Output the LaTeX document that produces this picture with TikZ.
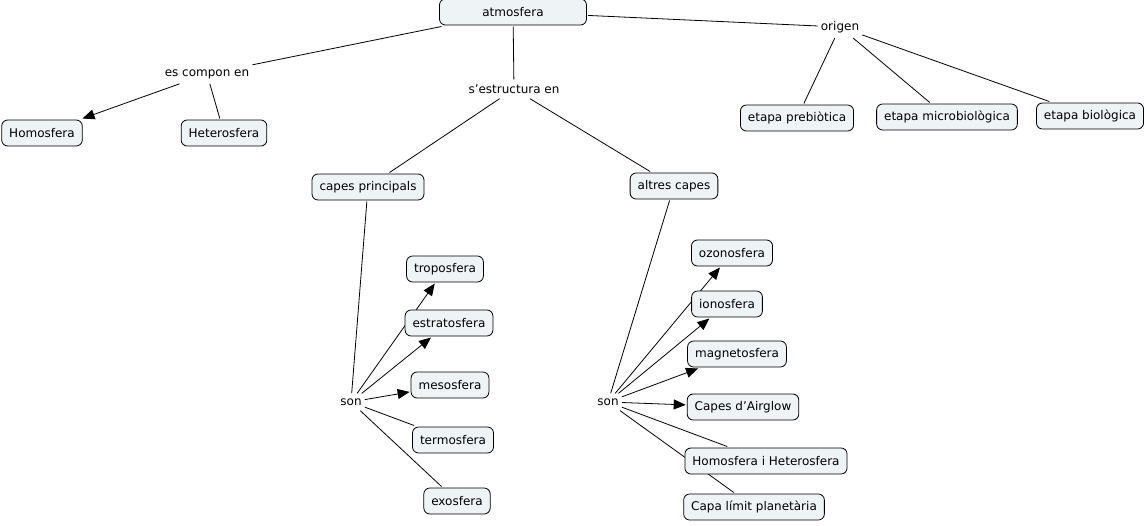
\documentclass[tikz,border=0pt]{standalone}
\usepackage{fontspec}
\setmainfont{DejaVu Sans}
\usetikzlibrary{arrows.meta,backgrounds}
\definecolor{boxfill}{HTML}{EEF3F6}
\begin{document}
\begin{tikzpicture}[x=1pt,y=-1pt,
  box/.style={draw=black,fill=boxfill,rounded corners=6pt,line width=0.8pt,
    minimum height=26pt,inner xsep=7.5pt,inner ysep=0pt,outer sep=1.5pt,
    font=\fontsize{12}{14}\selectfont},
  lbl/.style={inner xsep=3pt,inner ysep=5pt,font=\fontsize{12}{14}\selectfont},
  link/.style={line width=0.8pt},
  arr/.style={link,-{Triangle[length=12pt,width=10pt]}}]
\useasboundingbox (0,0) rectangle (1146,525);
% concepts
\node[box,minimum width=147pt] (atm) at (513,12) {atmosfera};
\node[box] (homo) at (42,133) {Homosfera};
\node[box] (hetero) at (224,133) {Heterosfera};
\node[box] (cprin) at (368,187) {capes principals};
\node[box] (altres) at (674,186) {altres capes};
\node[box] (preb) at (797,118) {etapa prebiòtica};
\node[box] (micro) at (947,117) {etapa microbiològica};
\node[box] (biol) at (1090,116) {etapa biològica};
\node[box] (tropo) at (445,269) {troposfera};
\node[box] (estrato) at (449,323) {estratosfera};
\node[box] (meso) at (450,385) {mesosfera};
\node[box] (termo) at (453,440) {termosfera};
\node[box] (exo) at (457,501) {exosfera};
\node[box] (ozono) at (732,253) {ozonosfera};
\node[box] (iono) at (727,304) {ionosfera};
\node[box] (magneto) at (737,354) {magnetosfera};
\node[box] (airglow) at (743,407) {Capes d’Airglow};
\node[box] (homhet) at (766,461) {Homosfera i Heterosfera};
\node[box] (capa) at (754,507) {Capa límit planetària};
% linking phrases
\node[lbl] (compon) at (207,74) {es compon en};
\node[lbl] (estruct) at (514,89) {s’estructura en};
\node[lbl] (origen) at (840,27) {origen};
\node[lbl] (son1) at (351,402) {son};
\node[lbl] (son2) at (608,402) {son};
% connectors
\begin{scope}[on background layer]
\draw[link] (atm) -- (compon);
\draw[arr] (compon) -- (homo);
\draw[link] (compon) -- (hetero);
\draw[link] (atm) -- (estruct);
\draw[link] (estruct) -- (cprin);
\draw[link] (estruct) -- (altres);
\draw[link] (atm) -- (origen);
\draw[link] (origen) -- (preb);
\draw[link] (origen) -- (micro);
\draw[link] (origen) -- (biol);
\draw[link] (cprin) -- (son1);
\draw[arr] (son1) -- (tropo);
\draw[arr] (son1) -- (estrato);
\draw[arr] (son1) -- (meso);
\draw[link] (son1) -- (termo);
\draw[link] (son1) -- (exo);
\draw[link] (altres) -- (son2);
\draw[arr] (son2) -- (ozono);
\draw[arr] (son2) -- (iono);
\draw[arr] (son2) -- (magneto);
\draw[arr] (son2) -- (airglow);
\draw[link] (son2) -- (homhet);
\draw[link] (son2) -- (capa);
\end{scope}
\end{tikzpicture}
\end{document}
